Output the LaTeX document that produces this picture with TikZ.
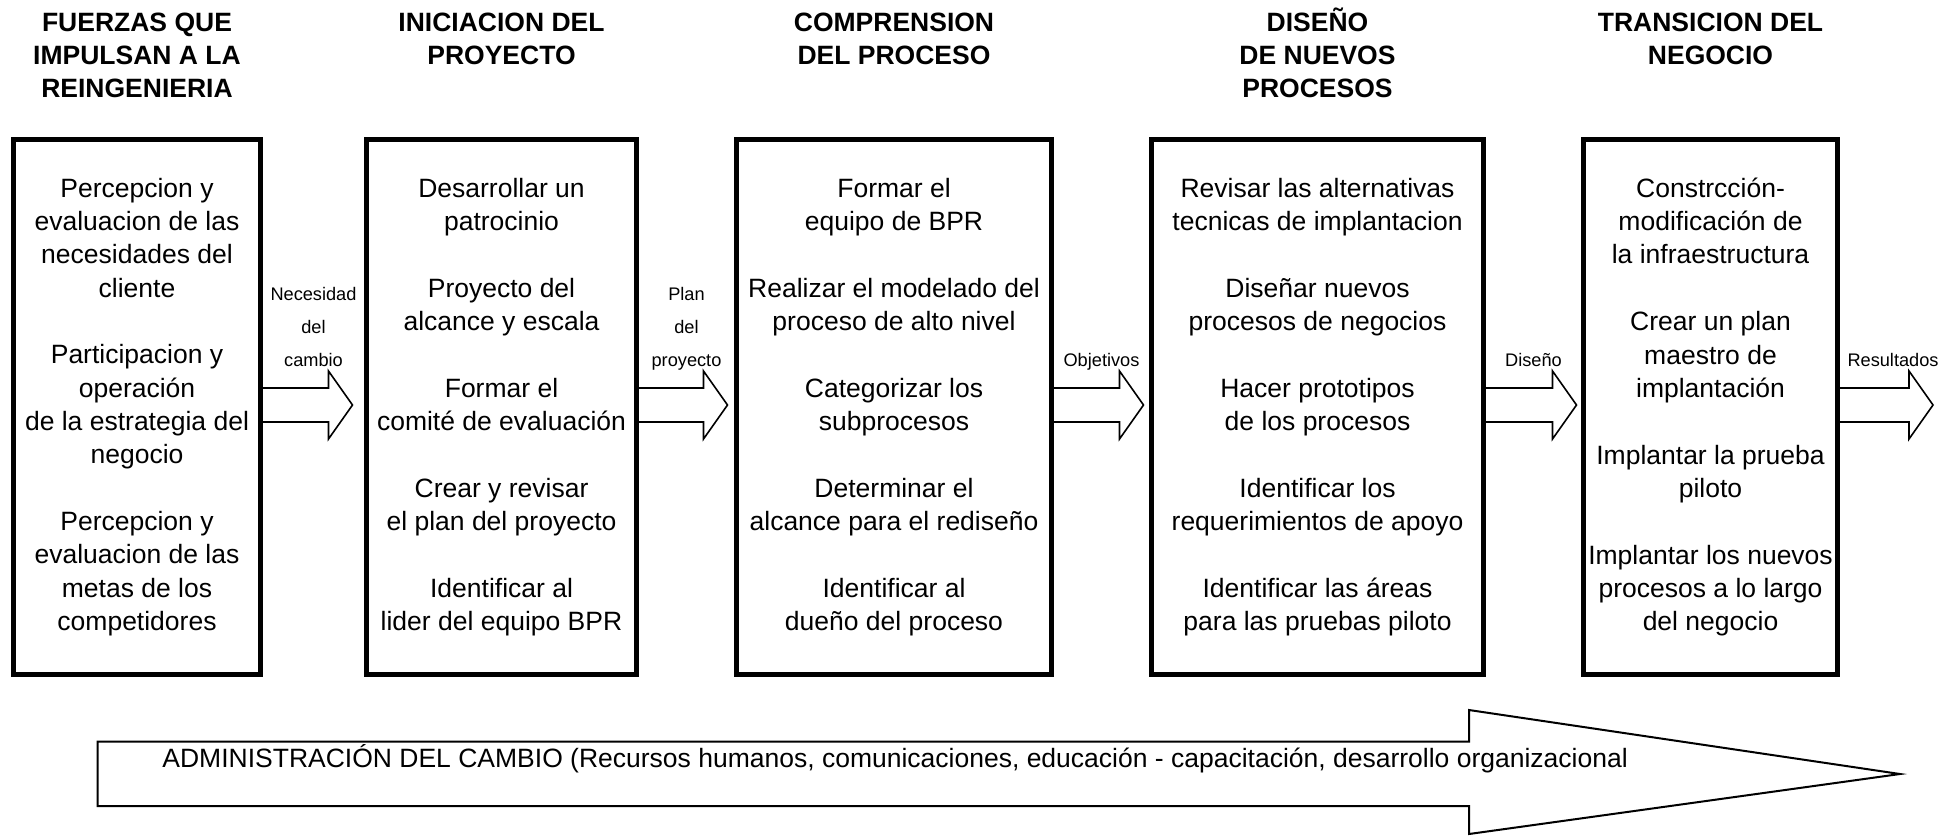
\documentclass[tikz,border=0pt]{standalone}
\usepackage{fontspec}
\setmainfont{Liberation Sans}
\usetikzlibrary{calc}
\begin{document}
\begin{tikzpicture}[x=0.5pt,y=-0.5pt,
  box/.style={draw, line width=2.5pt, rectangle, minimum height=267.5pt, inner sep=0pt, align=center, font=\fontsize{13.25pt}{16.67pt}\selectfont},
  title/.style={anchor=north, inner sep=0pt, align=center, font=\fontsize{13.25pt}{16.5pt}\selectfont\bfseries},
  lab/.style={anchor=south, inner sep=0pt, align=center, font=\fontsize{9.1pt}{16.5pt}\selectfont},
  flow/.style={draw, line width=0.8pt, line join=miter},
  bigflow/.style={draw, line width=1pt, line join=miter},
]
\useasboundingbox (0,0) rectangle (1957,836);
\coordinate (ttop) at (0,6.5);
\coordinate (lbot) at (0,372);

% boxes
\node[box, minimum width=123.5pt] (b1) at (137,407) {Percepcion y\\evaluacion de las\\necesidades del\\cliente\\[16.67pt]Participacion y\\operación\\de la estrategia del\\negocio\\[16.67pt]Percepcion y\\evaluacion de las\\metas de los\\competidores};
\node[box, minimum width=135pt] (b2) at (501.5,407) {Desarrollar un\\patrocinio\\[16.67pt]Proyecto del\\alcance y escala\\[16.67pt]Formar el\\comité de evaluación\\[16.67pt]Crear y revisar\\el plan del proyecto\\[16.67pt]Identificar al\\lider del equipo BPR};
\node[box, minimum width=157.5pt] (b3) at (894,407) {Formar el\\equipo de BPR\\[16.67pt]Realizar el modelado del\\proceso de alto nivel\\[16.67pt]Categorizar los\\subprocesos\\[16.67pt]Determinar el\\alcance para el rediseño\\[16.67pt]Identificar al\\dueño del proceso};
\node[box, minimum width=166pt] (b4) at (1317.5,407) {Revisar las alternativas\\tecnicas de implantacion\\[16.67pt]Diseñar nuevos\\procesos de negocios\\[16.67pt]Hacer prototipos\\de los procesos\\[16.67pt]Identificar los\\requerimientos de apoyo\\[16.67pt]Identificar las áreas\\para las pruebas piloto};
\node[box, minimum width=127pt] (b5) at (1710.5,407) {Constrcción-\\modificación de\\la infraestructura\\[16.67pt]Crear un plan\\maestro de\\implantación\\[16.67pt]Implantar la prueba\\piloto\\[16.67pt]Implantar los nuevos\\procesos a lo largo\\del negocio};

% titles
\node[title] (h1) at (b1.north |- ttop) {\rule{0pt}{12.5pt}FUERZAS QUE\\IMPULSAN A LA\\REINGENIERIA};
\node[title] (h2) at (b2.north |- ttop) {\rule{0pt}{12.5pt}INICIACION DEL\\PROYECTO};
\node[title] (h3) at (b3.north |- ttop) {\rule{0pt}{12.5pt}COMPRENSION\\DEL PROCESO};
\node[title] (h4) at (b4.north |- ttop) {\rule{0pt}{12.5pt}DISEÑO\\DE NUEVOS\\PROCESOS};
\node[title] (h5) at (b5.north |- ttop) {\rule{0pt}{12.5pt}TRANSICION DEL\\NEGOCIO};

% arrow tips
\coordinate (t1) at ($(b2.west)+(-11.5,-2)$);
\coordinate (t2) at ($(b3.west)+(-6.5,-2)$);
\coordinate (t3) at ($(b4.west)+(-5.5,-2)$);
\coordinate (t4) at ($(b5.west)+(-4.5,-2)$);
\coordinate (t5) at (1933,405);

\newcommand\flowarrow[2]{%
  \draw[flow] ($(#1.east |- #2)+(0,-17)$) -- ($(#2)+(-24,-17)$) -- ($(#2)+(-24,-34)$) -- (#2) -- ($(#2)+(-24,34)$) -- ($(#2)+(-24,17)$) -- ($(#1.east |- #2)+(0,17)$);%
}
\flowarrow{b1}{t1}
\flowarrow{b2}{t2}
\flowarrow{b3}{t3}
\flowarrow{b4}{t4}
\flowarrow{b5}{t5}

% labels
\coordinate (m1) at ($(b1.east)!0.5!(b2.west)$);
\coordinate (m2) at ($(b2.east)!0.5!(b3.west)$);
\coordinate (m3) at ($(b3.east)!0.5!(b4.west)$);
\coordinate (m4) at ($(b4.east)!0.5!(b5.west)$);
\coordinate (m5) at (1893,407);
\node[lab] (l1) at (m1 |- lbot) {Necesidad\\del\\cambio\rule[-2.5pt]{0pt}{2.5pt}};
\node[lab] (l2) at (m2 |- lbot) {Plan\\del\\proyecto\rule[-2.5pt]{0pt}{2.5pt}};
\node[lab] (l3) at (m3 |- lbot) {Objetivos\rule[-2.5pt]{0pt}{2.5pt}};
\node[lab] (l4) at (m4 |- lbot) {Diseño\rule[-2.5pt]{0pt}{2.5pt}};
\node[lab] (l5) at (m5 |- lbot) {Resultados\rule[-2.5pt]{0pt}{2.5pt}};

% bottom arrow
\draw[bigflow] (97.7,741.7) -- (1469,741.7) -- (1469,710) -- (1900,774) -- (1469,834) -- (1469,806) -- (97.7,806) -- cycle;
\node[anchor=base west, inner sep=0pt, font=\fontsize{13.25pt}{15pt}\selectfont] (adm) at (162,767) {ADMINISTRACIÓN DEL CAMBIO (Recursos humanos, comunicaciones, educación - capacitación, desarrollo organizacional};
\end{tikzpicture}
\end{document}
